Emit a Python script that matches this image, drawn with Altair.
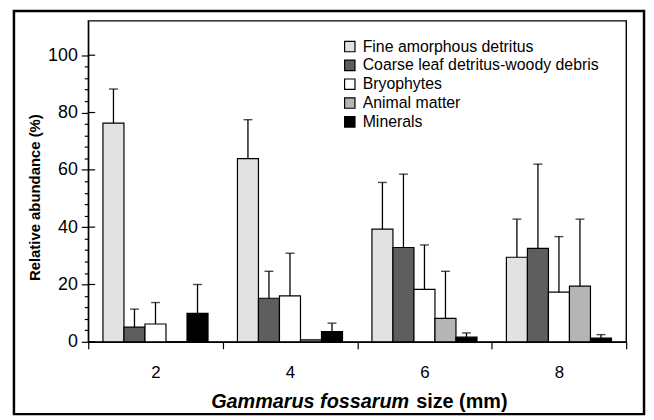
import altair as alt
import pandas as pd

sizes = ["2", "4", "6", "8"]
categories = [
    "Fine amorphous detritus",
    "Coarse leaf detritus-woody debris",
    "Bryophytes",
    "Animal matter",
    "Minerals",
]
# mean relative abundance (%) per size class
fine = [76.3, 63.9, 39.3, 29.5]
coarse = [5.1, 15.2, 32.9, 32.6]
bryo = [6.2, 16.0, 18.3, 17.3]
animal = [0.0, 0.7, 8.2, 19.4]
minerals = [9.9, 3.6, 1.6, 1.3]
# upper end of the error bars (mean + SD)
fine_up = [88.2, 77.5, 55.6, 42.8]
coarse_up = [11.4, 24.6, 58.5, 62.0]
bryo_up = [13.7, 30.9, 33.8, 36.7]
animal_up = [None, None, 24.6, 42.8]
minerals_up = [20.0, 6.5, 3.1, 2.5]
y_tick_values = list(range(0, 101, 4))
major_values = [0, 20, 40, 60, 80, 100]

fills = ["#e2e2e2", "#5e5e5e", "#ffffff", "#b5b5b5", "#000000"]

rows = []
for cat, means, ups in zip(
    categories,
    [fine, coarse, bryo, animal, minerals],
    [fine_up, coarse_up, bryo_up, animal_up, minerals_up],
):
    for s, m, u in zip(sizes, means, ups):
        rows.append({"size": s, "cat": cat, "mean": m, "upper": u})
df = pd.DataFrame(rows)
df_err = df.dropna(subset=["upper"])

major = pd.DataFrame({"v": major_values})

FONT = "Liberation Sans"

x_enc = alt.X(
    "size:N",
    sort=sizes,
    scale=alt.Scale(paddingInner=0, paddingOuter=0),
    axis=alt.Axis(
        title=None,
        tickBand="extent",
        labelAngle=0,
        tickSize=7,
        labelFontSize=17,
        labelPadding=16,
        labelFont=FONT,
        labelColor="black",
        domainColor="black",
        tickColor="black",
        tickWidth=1.2,
        domainWidth=1.2,
    ),
)
xo_enc = alt.XOffset(
    "cat:N", sort=categories, scale=alt.Scale(paddingInner=0, paddingOuter=0.7)
)
y_scale = alt.Scale(domain=[0, 112], nice=False)
y_axis = alt.Axis(
    title="Relative abundance (%)",
    titleFont=FONT,
    titleFontSize=15,
    titleFontWeight="bold",
    titleColor="black",
    titlePadding=5,
    titleY=178,
    values=y_tick_values,
    labelExpr="datum.value % 20 === 0 ? datum.label : ''",
    labelOverlap=False,
    labelFlush=False,
    tickSize={"condition": {"test": "datum.value % 20 === 0", "value": 7}, "value": 4},
    labelFontSize=18,
    labelFont=FONT,
    labelColor="black",
    labelPadding=4,
    grid=False,
    domainColor="black",
    tickColor="black",
    tickWidth=1.2,
    domainWidth=1.2,
)

bars = (
    alt.Chart(df)
    .mark_bar(stroke="black", strokeWidth=1.2)
    .encode(
        x=x_enc,
        xOffset=xo_enc,
        y=alt.Y("mean:Q", scale=y_scale, axis=y_axis),
        fill=alt.Fill(
            "cat:N",
            sort=categories,
            scale=alt.Scale(domain=categories, range=fills),
            legend=alt.Legend(
                title=None,
                orient="none",
                legendX=256,
                legendY=18,
                symbolType="square",
                symbolSize=110,
                symbolStrokeColor="black",
                symbolStrokeWidth=1.2,
                labelFont=FONT,
                labelFontSize=16,
                labelColor="black",
                rowPadding=3,
                labelOffset=5,
                labelLimit=400,
            ),
        ),
    )
)

err = (
    alt.Chart(df_err)
    .mark_rule(color="black", strokeWidth=1.3)
    .encode(
        x=x_enc,
        xOffset=xo_enc,
        y=alt.Y("mean:Q", scale=y_scale, axis=y_axis),
        y2="upper:Q",
    )
)
caps = (
    alt.Chart(df_err)
    .mark_tick(color="black", thickness=1.4, size=9)
    .encode(x=x_enc, xOffset=xo_enc, y=alt.Y("upper:Q", scale=y_scale, axis=y_axis))
)

inner_ticks = (
    alt.Chart(major)
    .mark_rule(color="black", strokeWidth=1.2)
    .encode(
        x=alt.value(0),
        x2=alt.value(7),
        y=alt.Y("v:Q", scale=y_scale, axis=y_axis),
    )
)

title_data = alt.Data(values=[{"a": 1}])
xt1 = (
    alt.Chart(title_data)
    .mark_text(
        text="Gammarus fossarum",
        font=FONT,
        fontSize=20,
        fontWeight="bold",
        fontStyle="italic",
        align="right",
        baseline="middle",
        color="black",
    )
    .encode(x=alt.value(324), y=alt.value(385))
)
xt2 = (
    alt.Chart(title_data)
    .mark_text(
        text="size (mm)",
        font=FONT,
        fontSize=20,
        fontWeight="bold",
        align="left",
        baseline="middle",
        color="black",
    )
    .encode(x=alt.value(331), y=alt.value(385))
)

frame = (
    alt.Chart(title_data)
    .mark_rect(filled=False, stroke="black", strokeWidth=2.5)
    .encode(x=alt.value(-75), x2=alt.value(561), y=alt.value(-10), y2=alt.value(397))
)

chart = (
    alt.layer(bars, err, caps, inner_ticks, xt1, xt2, frame)
    .properties(
        width=543,
        height=324,
        autosize=alt.AutoSizeParams(type="none"),
        padding={"left": 81, "top": 11, "right": 20, "bottom": 76},
        background="white",
    )
    .configure_view(stroke="black", strokeWidth=1.4)
)

chart.save("out.html", embed_options={"renderer": "svg", "actions": False})
